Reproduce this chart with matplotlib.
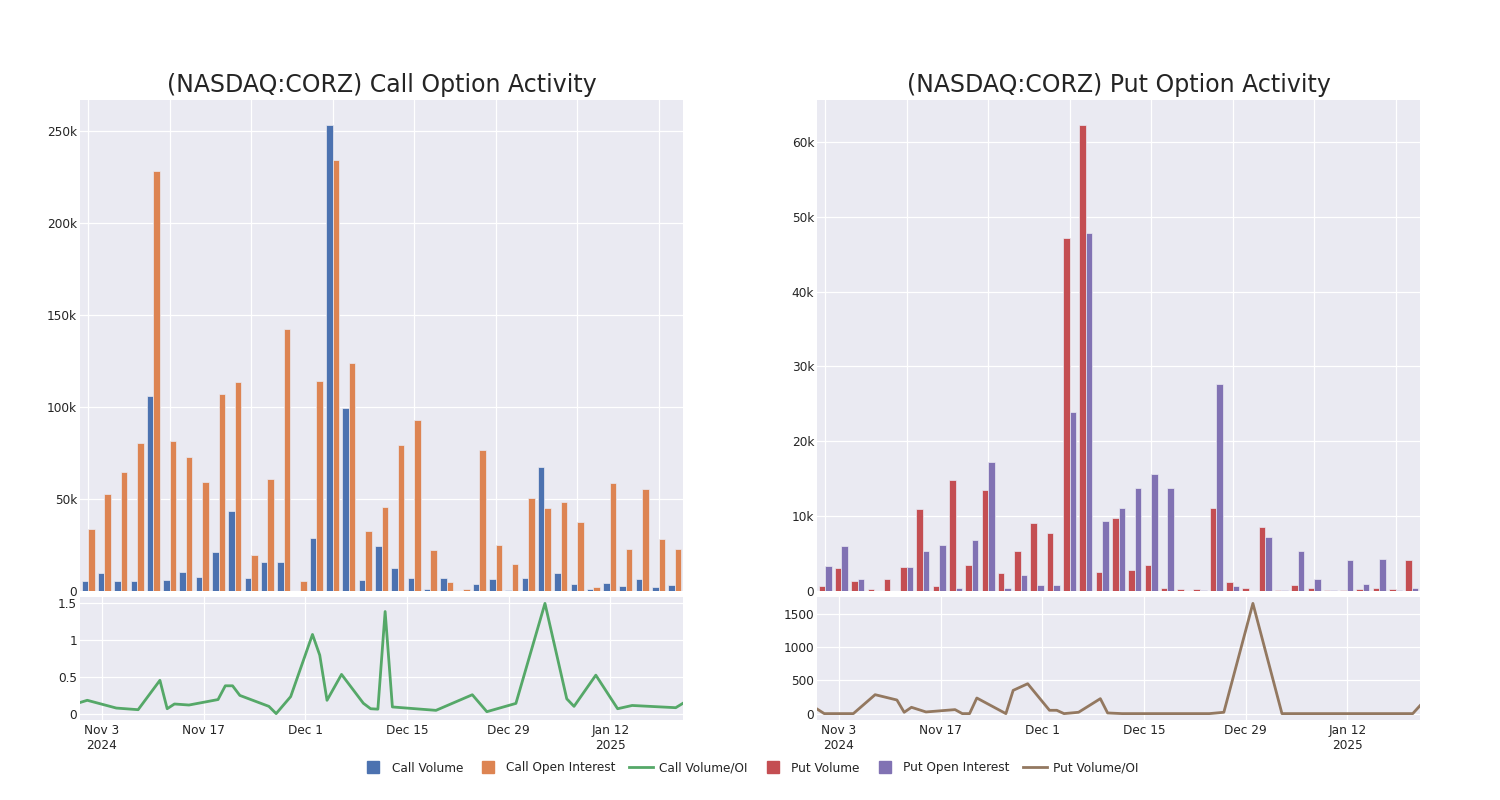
import numpy as np
import pandas as pd
import matplotlib
matplotlib.use("Agg")
import matplotlib.pyplot as plt
from matplotlib.lines import Line2D
from matplotlib.ticker import FuncFormatter, MultipleLocator

# trading days shown in the chart
dates = pd.to_datetime([
    "2024-10-31", "2024-11-01", "2024-11-05", "2024-11-08", "2024-11-11",
    "2024-11-12", "2024-11-13", "2024-11-15", "2024-11-19", "2024-11-20",
    "2024-11-21", "2024-11-22", "2024-11-26", "2024-11-27", "2024-11-29",
    "2024-12-02", "2024-12-03", "2024-12-04", "2024-12-06", "2024-12-09",
    "2024-12-10", "2024-12-11", "2024-12-12", "2024-12-13", "2024-12-19",
    "2024-12-24", "2024-12-26", "2024-12-30", "2025-01-03", "2025-01-06",
    "2025-01-07", "2025-01-10", "2025-01-13", "2025-01-15", "2025-01-17",
    "2025-01-21", "2025-01-22",
])

call_volume = [5.3, 9.8, 5.3, 5.3, 106, 5.8, 10.1, 7.4, 21.2, 43.7,
               7.2, 15.8, 15.8, 0, 28.8, 253.3, 99.3, 6.0, 24.6, 12.7,
               6.9, 1.2, 6.9, 0.2, 4.0, 6.3, 0.4, 7.2, 67.4, 10.0,
               4.0, 1.3, 4.3, 2.7, 6.7, 2.4, 3.4]
call_oi = [33.7, 52.9, 64.5, 80.1, 228, 81.5, 73.0, 59.2, 107.2, 113.4,
           19.4, 61.0, 142.2, 5.4, 114.1, 234, 123.9, 32.6, 45.8, 79.3,
           92.6, 22.5, 4.9, 1.1, 76.6, 25.2, 14.9, 50.7, 44.9, 48.2,
           37.3, 2.4, 58.5, 22.8, 55.3, 28.3, 22.8]
call_ratio = [0.16, 0.19, 0.085, 0.063, 0.46, 0.076, 0.14, 0.126, 0.2, 0.386,
              0.386, 0.256, 0.108, 0.01, 0.24, 1.08, 0.8, 0.19, 0.54, 0.15,
              0.076, 0.07, 1.39, 0.1, 0.054, 0.265, 0.036, 0.148, 1.5, 0.21,
              0.108, 0.53, 0.076, 0.12, 0.11, 0.09, 0.15]

put_volume = [0.62, 3.1, 1.3, 0.22, 1.56, 3.2, 11.0, 0.67, 14.8, 3.47,
              13.5, 2.45, 5.34, 9.1, 7.7, 47.2, 62.3, 2.54, 9.75, 2.76,
              3.43, 0.45, 0.22, 0.22, 11.1, 1.25, 0.45, 8.5, 0.13, 0.85,
              0.4, 0.13, 0.13, 0.22, 0.45, 0.3, 4.2]
put_oi = [3.4, 6.0, 1.65, 0.0, 0.04, 3.2, 5.4, 6.2, 0.45, 6.76,
          17.2, 0.4, 2.2, 0.8, 0.8, 23.9, 47.8, 9.35, 11.1, 13.75,
          15.6, 13.75, 0.05, 0.1, 27.6, 0.67, 0.0, 7.2, 0.1, 5.4,
          1.65, 0.13, 4.2, 1.0, 4.3, 0.13, 0.45]
put_ratio = [70, 0, 0, 285, 205, 20, 95, 25, 60, 0,
             0, 235, 0, 350, 450, 50, 50, 0, 20, 225,
             10, 5, 0, 0, 0, 0, 20, 1660, 0, 0,
             0, 0, 0, 0, 0, 0, 120]

date_ticks = pd.to_datetime(["2024-11-03", "2024-11-17", "2024-12-01",
                             "2024-12-15", "2024-12-29", "2025-01-12"])
date_labels = ["Nov 3\n2024", "Nov 17", "Dec 1", "Dec 15", "Dec 29", "Jan 12\n2025"]

colors = ["#4C72B0", "#DD8452", "#55A868", "#C44E52", "#8172B3", "#937860"]
BG = "#EAEAF2"
TXT = "#242424"

W, H = 1500, 800
fig = plt.figure(figsize=(15, 8), dpi=100)


def px_axes(x0, y0, x1, y1):
    return fig.add_axes([x0 / W, 1 - y1 / H, (x1 - x0) / W, (y1 - y0) / H])


def style(ax):
    ax.set_facecolor(BG)
    for s in ax.spines.values():
        s.set_visible(False)
    ax.grid(True, color="white", linewidth=0.9)
    ax.set_axisbelow(True)
    ax.tick_params(length=0, labelsize=8.7, colors=TXT, pad=2)


def kfmt(v, pos):
    return "0" if v == 0 else f"{v:g}k"


def draw_panel(x0, x1, title, vol, oi, ratio, c_vol, c_oi, c_ratio, ystep, rstep):
    ax = px_axes(x0, 100, x1, 591)
    style(ax)
    idx = np.arange(len(vol))
    ax.bar(idx - 0.2, vol, width=0.4, color=c_vol, edgecolor=BG, linewidth=0.5)
    ax.bar(idx + 0.2, oi, width=0.4, color=c_oi, edgecolor=BG, linewidth=0.5)
    ax.set_xlim(-0.5, len(vol) - 0.5)
    ax.set_ylim(0, max(max(vol), max(oi)) * 1.0526)
    ax.set_xticks(np.arange(0, len(vol), 5))
    ax.tick_params(axis="x", labelbottom=False)
    ax.yaxis.set_major_locator(MultipleLocator(ystep))
    ax.yaxis.set_major_formatter(FuncFormatter(kfmt))
    ax.set_title(title, fontsize=17, color=TXT, pad=6)

    ax2 = px_axes(x0, 597, x1, 720)
    style(ax2)
    ax2.plot(dates, ratio, color=c_ratio, linewidth=2)
    ax2.set_xlim(dates[0], dates[-1])
    span = max(ratio) - min(ratio)
    ax2.set_ylim(min(ratio) - span * 0.058, max(ratio) + span * 0.058)
    ax2.yaxis.set_major_locator(MultipleLocator(rstep))
    ax2.yaxis.set_major_formatter(FuncFormatter(lambda v, p: f"{v:g}"))
    ax2.set_xticks(date_ticks)
    ax2.set_xticklabels(date_labels)
    ax2.tick_params(axis="x", pad=3)
    return ax, ax2


draw_panel(80, 683, "(NASDAQ:CORZ) Call Option Activity",
           call_volume, call_oi, call_ratio, colors[0], colors[1], colors[2], 50, 0.5)
draw_panel(817, 1420, "(NASDAQ:CORZ) Put Option Activity",
           put_volume, put_oi, put_ratio, colors[3], colors[4], colors[5], 10, 500)

handles = [
    Line2D([], [], marker="s", linestyle="none", markersize=9, color=colors[0]),
    Line2D([], [], marker="s", linestyle="none", markersize=9, color=colors[1]),
    Line2D([], [], color=colors[2], linewidth=2),
    Line2D([], [], marker="s", linestyle="none", markersize=9, color=colors[3]),
    Line2D([], [], marker="s", linestyle="none", markersize=9, color=colors[4]),
    Line2D([], [], color=colors[5], linewidth=2),
]
labels = ["Call Volume", "Call Open Interest", "Call Volume/OI",
          "Put Volume", "Put Open Interest", "Put Volume/OI"]
fig.legend(handles, labels, loc="center", bbox_to_anchor=(0.5, 1 - 768 / H),
           ncol=6, frameon=False, fontsize=8.7, handlelength=2.0,
           columnspacing=1.1, handletextpad=0.5, labelcolor=TXT)

fig.savefig("out.png", dpi=100, facecolor="white")
